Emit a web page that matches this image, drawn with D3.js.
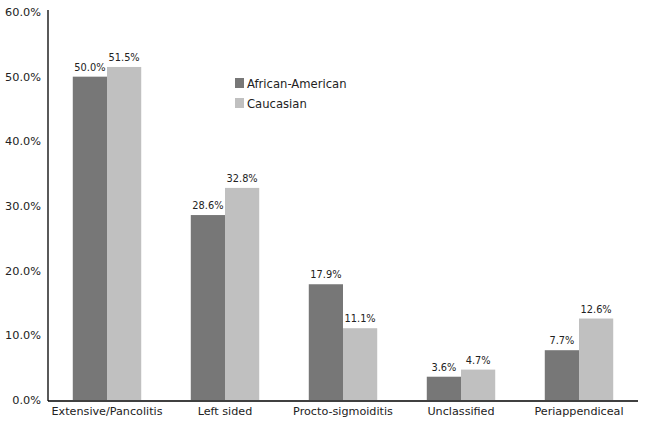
<!DOCTYPE html>
<html><head><meta charset="utf-8">
<script src="https://cdn.jsdelivr.net/npm/d3@7"></script>
<style>body{margin:0;background:#fff}svg{display:block}text{font-family:"DejaVu Sans",Verdana,sans-serif}</style>
</head><body><svg id="c" width="645" height="425"></svg>
<script>
const categories = ["Extensive/Pancolitis","Left sided","Procto-sigmoiditis","Unclassified","Periappendiceal"];
const seriesNames = ["African-American","Caucasian"];
const africanAmerican = [50.0, 28.6, 17.9, 3.6, 7.7];
const caucasian = [51.5, 32.8, 11.1, 4.7, 12.6];
const yTicks = [0,10,20,30,40,50,60];
const colors = ["#777777","#c0c0c0"];

const svg = d3.select("#c");
const x0 = 48, x1 = 638, yTop = 12, yBot = 400;
const y = d3.scaleLinear().domain([0,60]).range([yBot, yTop]);
const x = d3.scaleBand().domain(categories).range([x0, x1]).paddingInner(0.42).paddingOuter(0.21);
const xs = d3.scaleBand().domain(seriesNames).range([0, x.bandwidth()]);
const series = [africanAmerican, caucasian];

const yAxis = d3.axisLeft(y).tickValues(yTicks).tickFormat(d => d.toFixed(1) + "%").tickSize(0).tickPadding(7);
const gy = svg.append("g").attr("transform", `translate(${x0},0)`).call(yAxis);
gy.select(".domain").attr("stroke","#000").attr("stroke-width",1.3).attr("d", `M0,${yTop-2}V${yBot+1}`);
gy.selectAll("text").attr("font-size", 11.3).attr("fill","#222");

series.forEach((vals, si) => {
  svg.append("g").selectAll("rect").data(vals).join("rect")
    .attr("x", (d,i) => x(categories[i]) + xs(seriesNames[si]))
    .attr("y", d => y(d))
    .attr("width", xs.bandwidth())
    .attr("height", d => yBot - y(d))
    .attr("fill", colors[si]);
  svg.append("g").selectAll("text").data(vals).join("text")
    .attr("x", (d,i) => x(categories[i]) + xs(seriesNames[si]) + xs.bandwidth()/2)
    .attr("y", d => y(d) - 6)
    .attr("text-anchor","middle").attr("font-size", 9.8).attr("fill","#222")
    .text(d => d.toFixed(1) + "%");
});

const xAxis = d3.axisBottom(x).tickSize(0).tickPadding(6);
const gx = svg.append("g").attr("transform", `translate(0,${yBot+1})`).call(xAxis);
gx.select(".domain").attr("stroke","#000").attr("stroke-width",1.3).attr("d", `M${x0},0H${x1}`);
gx.selectAll("text").attr("font-size", 11.2).attr("fill","#222");

const lg = svg.append("g").attr("transform","translate(235,78)");
seriesNames.forEach((n,i) => {
  lg.append("rect").attr("x",0).attr("y", i*20).attr("width",9).attr("height",10).attr("fill",colors[i]);
  lg.append("text").attr("x",12).attr("y", i*20+9.5).attr("font-size",11.6).attr("fill","#222").text(n);
});
</script></body></html>
